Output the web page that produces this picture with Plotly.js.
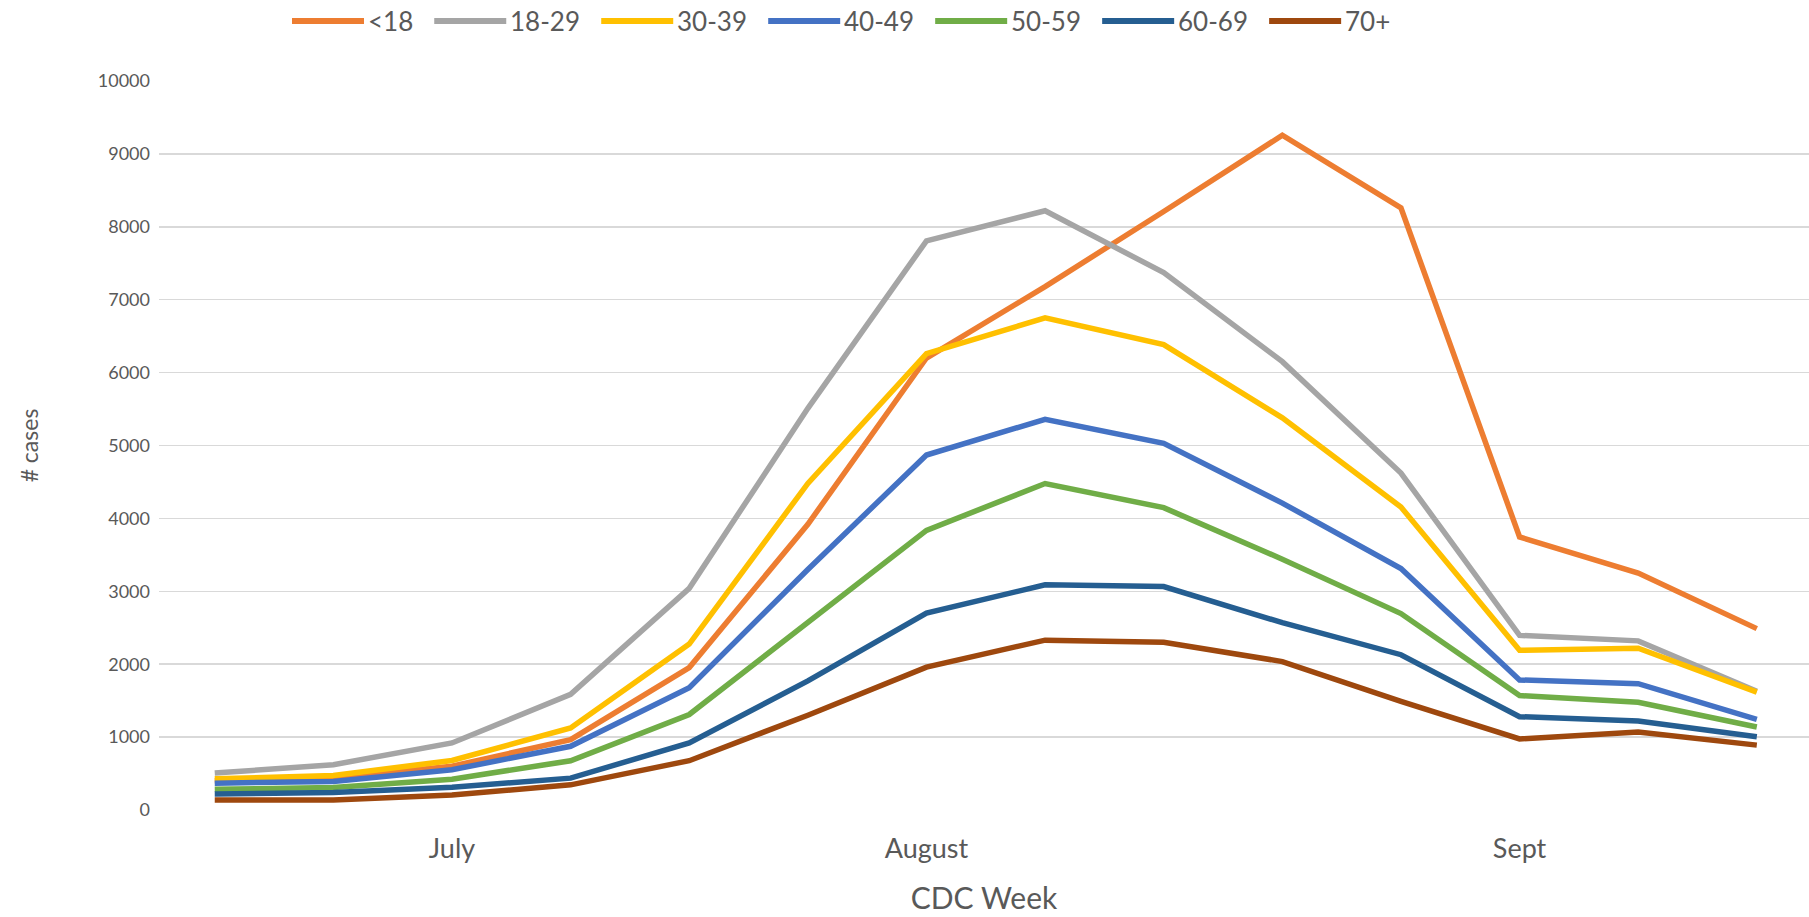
<!DOCTYPE html>
<html>
<head>
<meta charset="utf-8">
<script src="https://cdn.plot.ly/plotly-3.0.1.min.js"></script>
<style>html,body{margin:0;padding:0;background:#fff;}#chart{width:1809px;height:917px;}</style>
</head>
<body>
<div id="chart"></div>
<script>
const weeks = [0,1,2,3,4,5,6,7,8,9,10,11,12,13];
const tickPositions = [2, 6, 11];
const tickLabels = ['July', 'August', 'Sept'];
const seriesNames = ['<18', '18-29', '30-39', '40-49', '50-59', '60-69', '70+'];
const under18 = [400, 440, 600, 966, 1954, 3920, 6200, 7180, 8210, 9256, 8260, 3745, 3250, 2488];
const age18to29 = [506, 621, 920, 1586, 3040, 5510, 7807, 8220, 7371, 6150, 4622, 2395, 2320, 1630];
const age30to39 = [428, 474, 680, 1126, 2276, 4480, 6260, 6751, 6384, 5380, 4155, 2190, 2220, 1617];
const age40to49 = [368, 391, 552, 874, 1678, 3300, 4869, 5360, 5029, 4210, 3312, 1784, 1732, 1243];
const age50to59 = [285, 308, 423, 676, 1310, 2563, 3836, 4478, 4148, 3440, 2694, 1570, 1477, 1138];
const age60to69 = [221, 239, 313, 437, 920, 1772, 2700, 3090, 3065, 2570, 2130, 1280, 1220, 1005];
const age70plus = [138, 138, 207, 345, 676, 1300, 1960, 2330, 2300, 2036, 1490, 975, 1070, 890];
const seriesValues = [under18, age18to29, age30to39, age40to49, age50to59, age60to69, age70plus];
const colors = ['#ED7D31', '#A5A5A5', '#FFC000', '#4472C4', '#70AD47', '#255E91', '#9E480E'];

const FONT = 'Lato, "Open Sans", sans-serif';
const TEXT = '#595959';
const W = 1809, H = 917;
const M = {l: 159, r: 0, t: 81, b: 107};
const plotW = W - M.l - M.r, plotH = H - M.t - M.b;

const traces = seriesNames.map((n, i) => ({
  type: 'scatter', mode: 'lines', name: n,
  x: weeks, y: seriesValues[i],
  line: {color: colors[i], width: 5.5, shape: 'linear'},
  showlegend: false
}));

// Custom legend (Excel-style long line keys)
const LEG_FONT_SIZE = 26;
const ctx = document.createElement('canvas').getContext('2d');
ctx.font = LEG_FONT_SIZE + 'px Lato';
const legendShapes = [], legendAnn = [];
let px = 292;
const legY = 21;
const toPX = v => (v - M.l) / plotW;
const toPY = v => (H - M.b - v) / plotH;
seriesNames.forEach((n, i) => {
  legendShapes.push({type: 'line', xref: 'paper', yref: 'paper',
    x0: toPX(px), x1: toPX(px + 72), y0: toPY(legY), y1: toPY(legY),
    line: {color: colors[i], width: 6}});
  const tx = px + 75;
  legendAnn.push({xref: 'paper', yref: 'paper', x: toPX(tx), y: toPY(legY),
    xanchor: 'left', yanchor: 'middle', showarrow: false, text: n.replace('<', '&lt;'),
    font: {family: FONT, size: LEG_FONT_SIZE, color: TEXT}, borderpad: 0});
  px = tx + ctx.measureText(n).width + 22;
});

const layout = {
  width: W, height: H,
  margin: M,
  paper_bgcolor: '#fff', plot_bgcolor: '#fff',
  font: {family: FONT, color: TEXT, size: 20},
  showlegend: false,
  shapes: legendShapes,
  annotations: legendAnn,
  xaxis: {
    type: 'linear', range: [-0.47, 13.44],
    tickmode: 'array', tickvals: tickPositions, ticktext: tickLabels,
    showgrid: false, zeroline: false, showline: false, ticks: '',
    tickfont: {family: FONT, size: 27, color: TEXT},
    ticklabelstandoff: 20,
    title: {text: 'CDC Week', font: {family: FONT, size: 30, color: TEXT}, standoff: 24}
  },
  yaxis: {
    range: [0, 10000], tickmode: 'linear', tick0: 0, dtick: 1000, tickformat: 'd',
    showgrid: true, gridcolor: '#D9D9D9', gridwidth: 1.5,
    zeroline: false, showline: false, ticks: '',
    tickfont: {family: FONT, size: 18, color: TEXT},
    ticklabelstandoff: 8,
    title: {text: '# cases', font: {family: FONT, size: 23, color: TEXT}, standoff: 52}
  }
};

Plotly.newPlot('chart', traces, layout, {displayModeBar: false, staticPlot: true});
</script>
</body>
</html>
